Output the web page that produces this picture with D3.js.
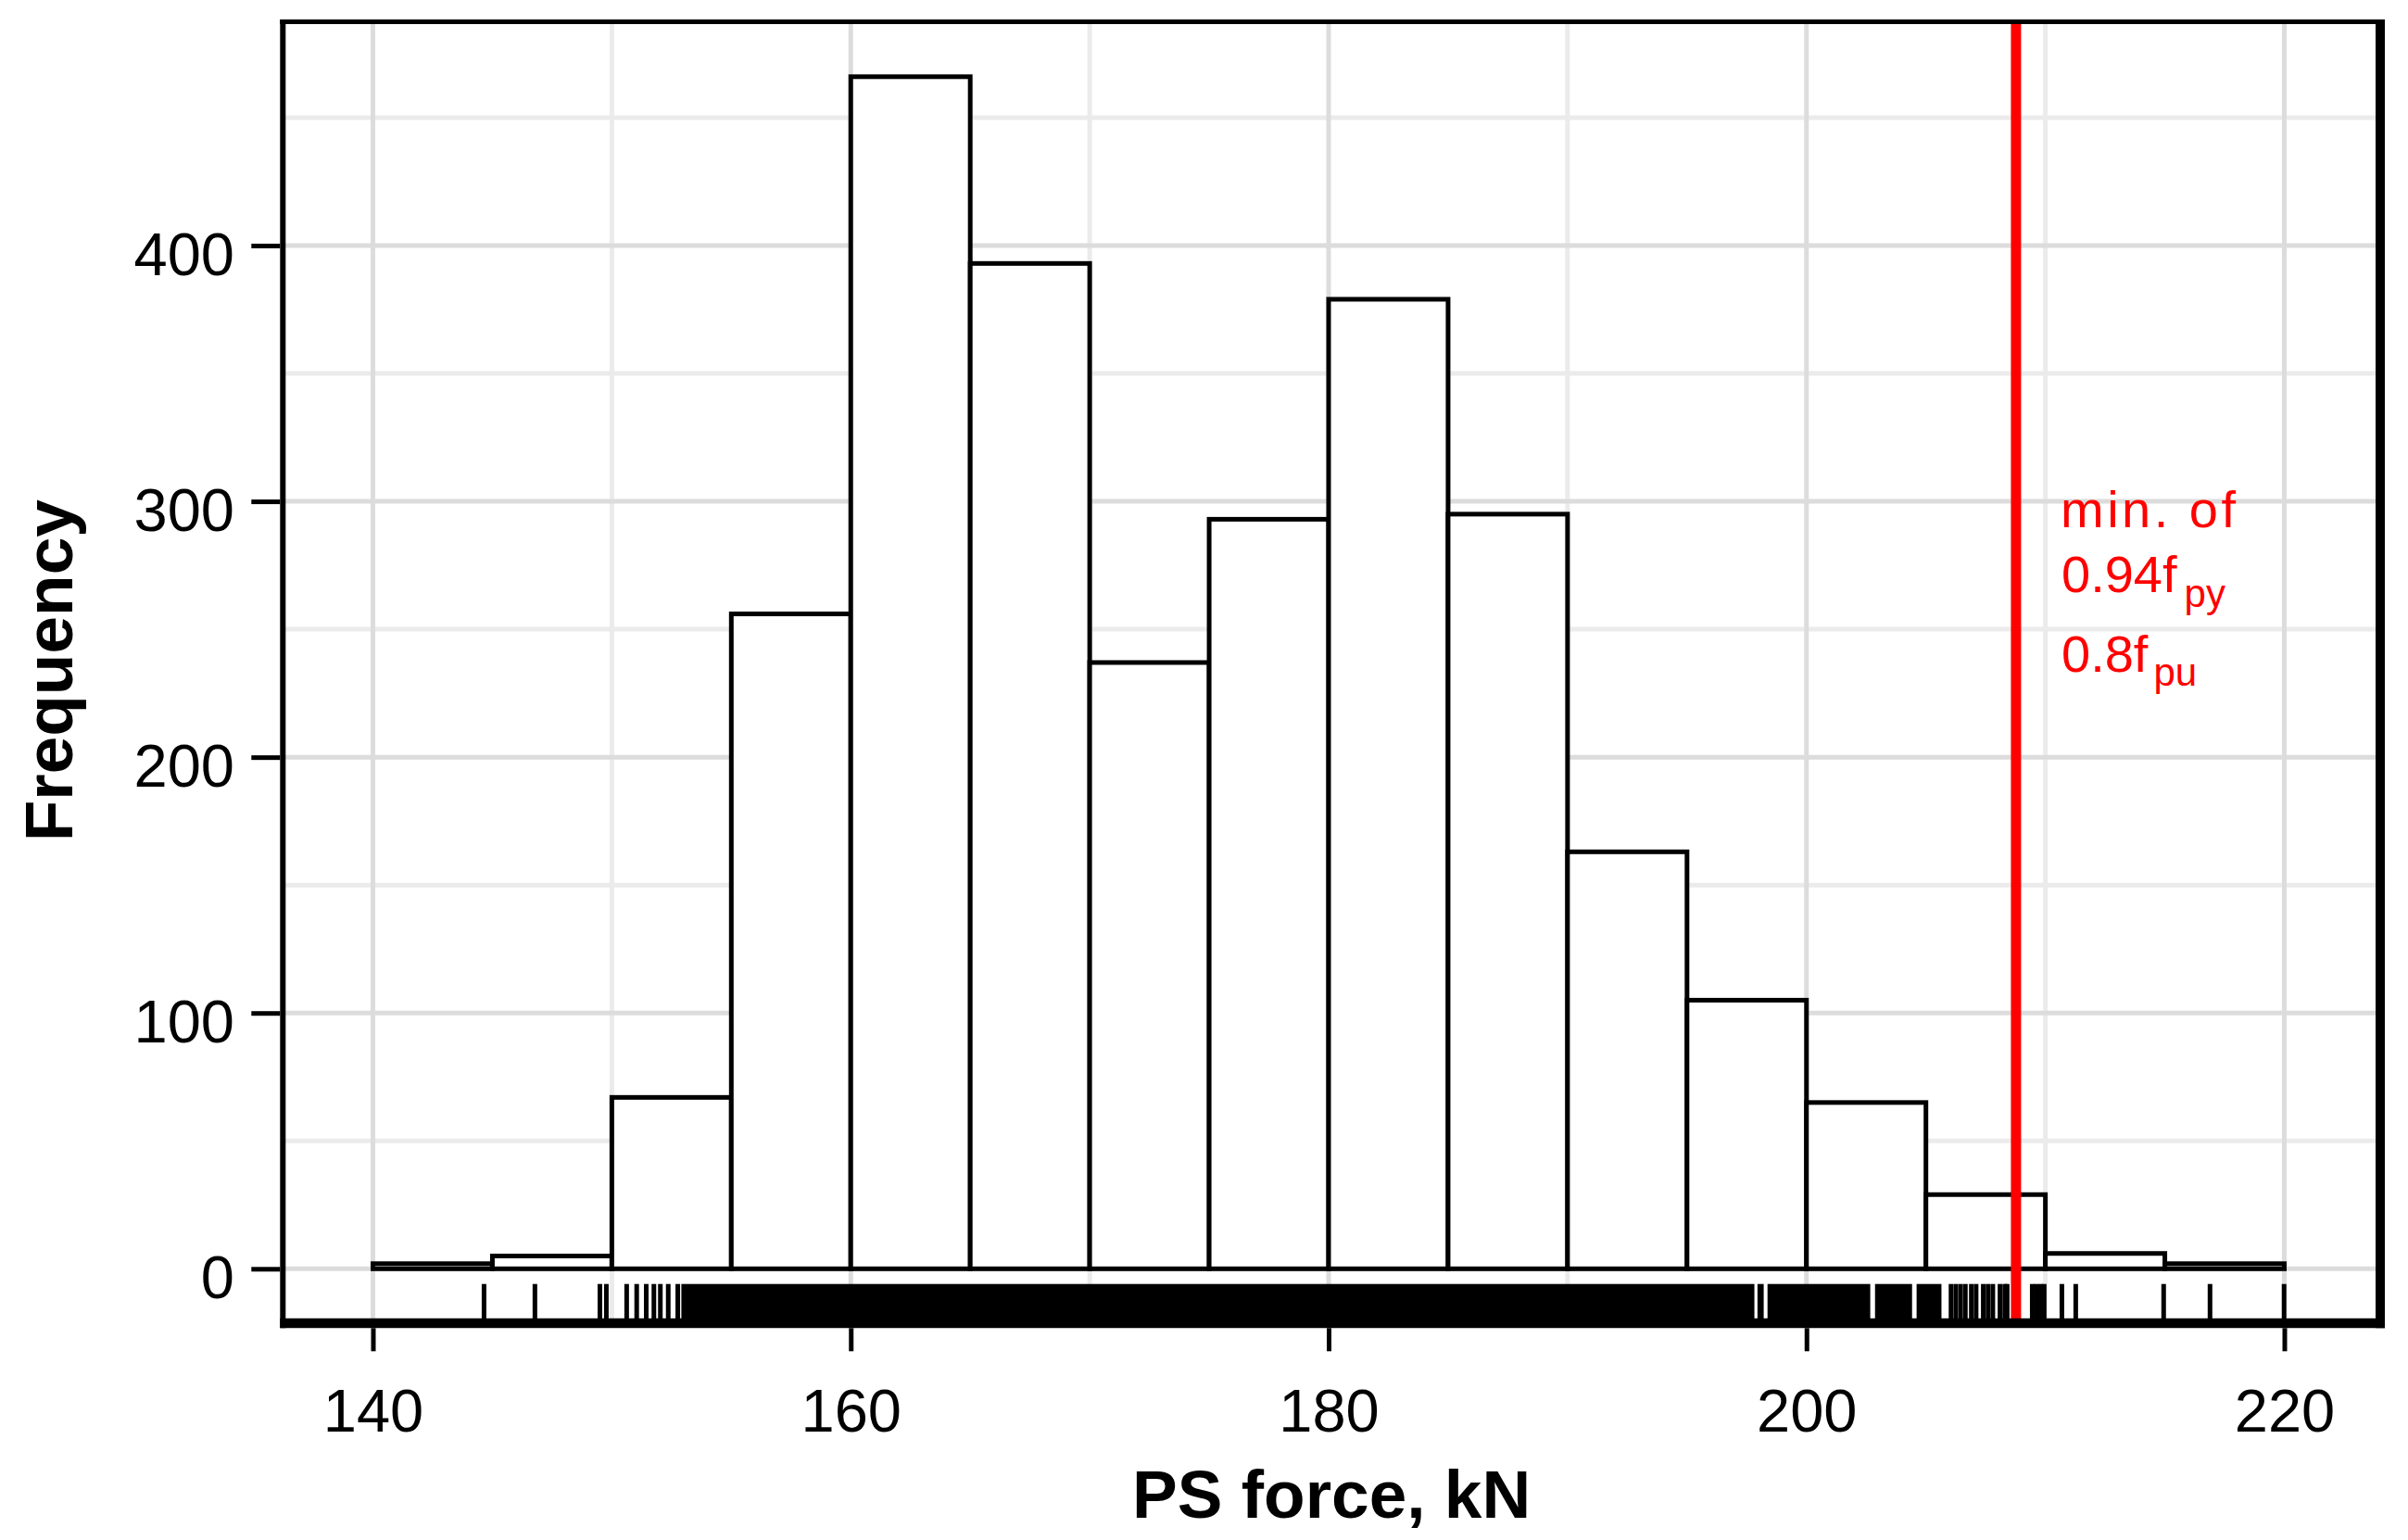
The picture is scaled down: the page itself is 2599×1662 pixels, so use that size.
<!DOCTYPE html>
<html>
<head>
<meta charset="utf-8">
<script src="https://cdn.jsdelivr.net/npm/d3@7"></script>
<style>
  html, body { margin: 0; padding: 0; background: #ffffff; }
  svg { display: block; }
  text { font-family: "Liberation Sans", Arial, Helvetica, sans-serif; }
</style>
</head>
<body>
<svg id="chart" width="2599" height="1662"></svg>
<script>
// ---------------- data ----------------
const binEdges = [140, 145, 150, 155, 160, 165, 170, 175, 180, 185, 190, 195, 200, 205, 210, 215, 220];
const counts   = [2, 5, 67, 256, 466, 393, 237, 293, 379, 295, 163, 105, 65, 29, 6, 2];

// rug: individually visible observations (kN)
const rugTicks = [144.65, 146.78, 149.50, 149.77, 150.62, 151.04, 151.44, 151.76, 152.03, 152.36, 152.76,
                  206.05, 206.25, 206.45, 206.65, 206.90, 207.10, 207.40, 207.60, 207.80, 208.10, 208.30, 208.40,
                  208.70, 209.45, 209.62, 209.80, 209.95, 210.69, 211.27, 214.95, 216.89, 219.99];
// rug: ranges where observations are so dense that ticks merge into a solid band (kN, ink extent)
const rugBands = [[152.91, 197.82], [197.95, 198.21], [198.37, 202.67], [202.87, 204.42], [204.61, 205.65]];

const limitValue = 208.77;                      // red reference line
const limitLabel = ["min. of", ["0.94f", "py"], ["0.8f", "pu"]];

const xTicks = [140, 160, 180, 200, 220];
const xMinor = [150, 170, 190, 210];
const yTicks = [0, 100, 200, 300, 400];
const yMinor = [50, 150, 250, 350, 450];

const xTitle = "PS force, kN";
const yTitle = "Frequency";

// ---------------- layout ----------------
const box = { left: 305.3, right: 2569, top: 23.5, bottom: 1428 };
const x = d3.scaleLinear().domain([140, 220]).range([402.5, 2465.5]);
const y = d3.scaleLinear().domain([0, 400]).range([1369.3, 265]);

const svg = d3.select("#chart");

svg.append("defs").append("clipPath").attr("id", "plotclip")
  .append("rect")
  .attr("x", box.left).attr("y", box.top)
  .attr("width", box.right - box.left).attr("height", box.bottom - box.top);

const plot = svg.append("g").attr("clip-path", "url(#plotclip)");

// grid
const gridW = 5;
plot.selectAll("line.gxm").data(xMinor).join("line")
  .attr("x1", d => x(d)).attr("x2", d => x(d))
  .attr("y1", box.top).attr("y2", box.bottom)
  .attr("stroke", "#ebebeb").attr("stroke-width", gridW);
plot.selectAll("line.gym").data(yMinor).join("line")
  .attr("y1", d => y(d)).attr("y2", d => y(d))
  .attr("x1", box.left).attr("x2", box.right)
  .attr("stroke", "#ebebeb").attr("stroke-width", gridW);
plot.selectAll("line.gxM").data(xTicks).join("line")
  .attr("x1", d => x(d)).attr("x2", d => x(d))
  .attr("y1", box.top).attr("y2", box.bottom)
  .attr("stroke", "#dcdcdc").attr("stroke-width", gridW);
plot.selectAll("line.gyM").data(yTicks).join("line")
  .attr("y1", d => y(d)).attr("y2", d => y(d))
  .attr("x1", box.left).attr("x2", box.right)
  .attr("stroke", "#dcdcdc").attr("stroke-width", gridW);

// histogram bars
const bins = counts.map((c, i) => ({ x0: binEdges[i], x1: binEdges[i + 1], n: c }));
plot.selectAll("rect.bar").data(bins).join("rect")
  .attr("class", "bar")
  .attr("x", d => x(d.x0))
  .attr("width", d => x(d.x1) - x(d.x0))
  .attr("y", d => y(d.n))
  .attr("height", d => y(0) - y(d.n))
  .attr("fill", "#ffffff")
  .attr("stroke", "#000000")
  .attr("stroke-width", 5);

// rug
const rugTop = 1385.7;
plot.selectAll("rect.rugband").data(rugBands).join("rect")
  .attr("x", d => x(d[0])).attr("width", d => x(d[1]) - x(d[0]))
  .attr("y", rugTop).attr("height", box.bottom - rugTop)
  .attr("fill", "#000000");
plot.selectAll("line.rug").data(rugTicks).join("line")
  .attr("x1", d => x(d)).attr("x2", d => x(d))
  .attr("y1", rugTop).attr("y2", box.bottom)
  .attr("stroke", "#000000").attr("stroke-width", 5);

// red reference line
plot.append("line")
  .attr("x1", x(limitValue)).attr("x2", x(limitValue))
  .attr("y1", box.top).attr("y2", box.bottom)
  .attr("stroke", "#ff0000").attr("stroke-width", 11);

// frame
const frame = svg.append("g").attr("stroke", "#000000").attr("stroke-linecap", "butt");
frame.append("line").attr("x1", box.left - 3).attr("x2", box.right + 5).attr("y1", box.top).attr("y2", box.top).attr("stroke-width", 5);
frame.append("line").attr("x1", box.left).attr("x2", box.left).attr("y1", box.top - 2.5).attr("y2", box.bottom + 5.3).attr("stroke-width", 6);
frame.append("line").attr("x1", box.left - 3).attr("x2", box.right + 5).attr("y1", box.bottom).attr("y2", box.bottom).attr("stroke-width", 10.6);
frame.append("line").attr("x1", box.right).attr("x2", box.right).attr("y1", box.top - 2.5).attr("y2", box.bottom + 5.3).attr("stroke-width", 10);

// x axis
const xAxis = d3.axisBottom(x).tickValues(xTicks).tickSizeInner(25).tickSizeOuter(0).tickPadding(0).tickFormat(d3.format("d"));
const gx = svg.append("g").attr("transform", `translate(0,${box.bottom + 5.3})`).call(xAxis);
gx.select(".domain").remove();
gx.selectAll(".tick line").attr("stroke", "#000").attr("stroke-width", 5);
gx.selectAll(".tick text")
  .attr("y", 1545 - (box.bottom + 5.3)).attr("dy", null)
  .attr("fill", "#000").attr("font-size", 65)
  .attr("font-family", "'Liberation Sans', Arial, sans-serif");

// y axis
const yAxis = d3.axisLeft(y).tickValues(yTicks).tickSizeInner(31).tickSizeOuter(0).tickPadding(0).tickFormat(d3.format("d"));
const gy = svg.append("g").attr("transform", `translate(${box.left - 3},0)`).call(yAxis);
gy.select(".domain").remove();
gy.selectAll(".tick line").attr("stroke", "#000").attr("stroke-width", 5);
gy.selectAll(".tick text")
  .attr("x", 253 - (box.left - 3)).attr("dy", null).attr("y", 31)
  .attr("text-anchor", "end")
  .attr("fill", "#000").attr("font-size", 65)
  .attr("font-family", "'Liberation Sans', Arial, sans-serif");

// axis titles
svg.append("text")
  .attr("x", (box.left + box.right) / 2).attr("y", 1638)
  .attr("text-anchor", "middle").attr("font-weight", "bold").attr("font-size", 73)
  .attr("fill", "#000").text(xTitle);
svg.append("text")
  .attr("transform", `translate(78,${(box.top + box.bottom) / 2 - 2}) rotate(-90)`)
  .attr("text-anchor", "middle").attr("font-weight", "bold").attr("font-size", 73)
  .attr("fill", "#000").text(yTitle);

// red annotation
const ann = svg.append("g").attr("fill", "#ff0000").attr("font-size", 56);
ann.append("text").attr("x", 2224).attr("y", 569)
  .attr("textLength", 189).attr("lengthAdjust", "spacing").text(limitLabel[0]);
const t2 = ann.append("text").attr("x", 2225).attr("y", 639);
t2.append("tspan").text(limitLabel[1][0]);
t2.append("tspan").attr("dx", 8).attr("dy", 16).attr("font-size", 42).text(limitLabel[1][1]);
const t3 = ann.append("text").attr("x", 2225).attr("y", 725);
t3.append("tspan").text(limitLabel[2][0]);
t3.append("tspan").attr("dx", 6).attr("dy", 15).attr("font-size", 42).text(limitLabel[2][1]);
</script>
</body>
</html>
